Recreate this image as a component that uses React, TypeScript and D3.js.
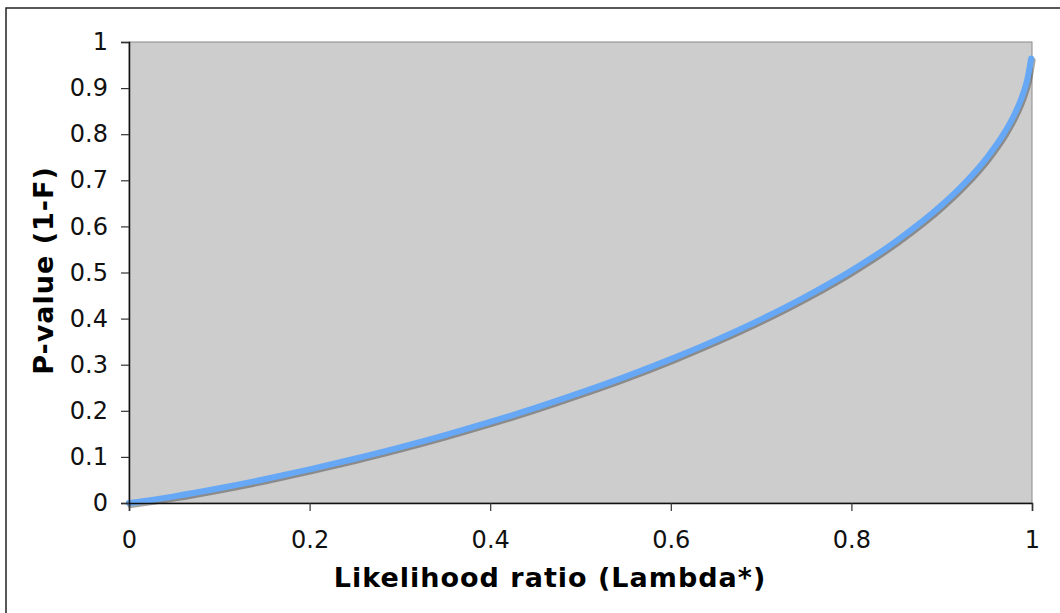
import React, { useEffect, useRef } from 'react';
import * as d3 from 'd3';

// Likelihood ratio (Lambda*) values
const lambdaValues = [0, 0.001, 0.01, 0.02, 0.05, 0.1, 0.15, 0.2, 0.25, 0.3, 0.35, 0.4, 0.45, 0.5, 0.55, 0.6, 0.65, 0.7, 0.75, 0.8, 0.85, 0.9, 0.925, 0.95, 0.97, 0.98, 0.99, 0.995, 0.999];
// P-value (1-F) at each lambda
const pValues = [0, 0.0002, 0.0024, 0.0052, 0.0144, 0.0319, 0.0514, 0.0728, 0.0959, 0.1206, 0.1473, 0.1758, 0.2063, 0.2393, 0.2742, 0.3121, 0.3533, 0.3983, 0.4482, 0.5041, 0.5686, 0.6462, 0.693, 0.7488, 0.805, 0.8406, 0.8872, 0.9203, 0.9644];

const xTicks = [0, 0.2, 0.4, 0.6, 0.8, 1];
const yTicks = [0, 0.1, 0.2, 0.3, 0.4, 0.5, 0.6, 0.7, 0.8, 0.9, 1];

const xTitle = 'Likelihood ratio (Lambda*)';
const yTitle = 'P-value (1-F)';

const App: React.FC = () => {
  const ref = useRef<SVGSVGElement | null>(null);

  useEffect(() => {
    if (!ref.current) return;
    const svg = d3.select(ref.current);
    svg.selectAll('*').remove();

    const width = 1060;
    const height = 613;
    const margin = { top: 42, right: 28, bottom: 110, left: 129 };
    const font = 'Verdana, "DejaVu Sans", sans-serif';

    const x = d3.scaleLinear().domain([0, 1]).range([margin.left, width - margin.right]);
    const y = d3.scaleLinear().domain([0, 1]).range([height - margin.bottom, margin.top]);

    // outer frame
    svg.append('rect')
      .attr('x', 6).attr('y', 8)
      .attr('width', 1200).attr('height', 800)
      .attr('fill', 'white')
      .attr('stroke', '#222')
      .attr('stroke-width', 1.5);

    // plot area
    svg.append('rect')
      .attr('x', x(0)).attr('y', y(1))
      .attr('width', x(1) - x(0)).attr('height', y(0) - y(1))
      .attr('fill', '#cdcdcd')
      .attr('stroke', '#8a8a8a')
      .attr('stroke-width', 1);

    const data = lambdaValues.map((l, i) => ({ l, p: pValues[i] }));
    const line = d3.line<{ l: number; p: number }>()
      .x(d => x(d.l))
      .y(d => y(d.p))
      .curve(d3.curveMonotoneX);

    // shadow under the line
    svg.append('path')
      .datum(data)
      .attr('fill', 'none')
      .attr('stroke', 'rgba(60,60,60,0.45)')
      .attr('stroke-width', 6)
      .attr('stroke-linecap', 'round')
      .attr('transform', 'translate(1.5,2)')
      .attr('d', line);

    svg.append('path')
      .datum(data)
      .attr('fill', 'none')
      .attr('stroke', '#66a8f5')
      .attr('stroke-width', 6)
      .attr('stroke-linecap', 'round')
      .attr('d', line);

    // X axis
    const xAxis = svg.append('g')
      .attr('transform', `translate(0,${y(0)})`)
      .call(d3.axisBottom(x).tickValues(xTicks).tickSize(8).tickPadding(20).tickFormat(d => d3.format('')(d as number)));
    xAxis.select('.domain').attr('stroke', '#111').attr('stroke-width', 1.5);
    xAxis.selectAll('line').attr('stroke', '#333').attr('stroke-width', 1.2);
    xAxis.selectAll('text')
      .attr('font-family', font)
      .attr('font-size', 24)
      .attr('fill', '#111');

    // Y axis
    const yAxis = svg.append('g')
      .attr('transform', `translate(${x(0)},0)`)
      .call(d3.axisLeft(y).tickValues(yTicks).tickSize(8).tickPadding(13).tickFormat(d => d3.format('')(d as number)));
    yAxis.select('.domain').attr('stroke', '#111').attr('stroke-width', 1.5);
    yAxis.selectAll('line').attr('stroke', '#333').attr('stroke-width', 1.2);
    yAxis.selectAll('text')
      .attr('font-family', font)
      .attr('font-size', 24)
      .attr('fill', '#111');

    // axis titles
    svg.append('text')
      .attr('x', 550)
      .attr('y', 587)
      .attr('text-anchor', 'middle')
      .attr('font-family', font)
      .attr('font-weight', 'bold')
      .attr('font-size', 27)
      .attr('letter-spacing', 1)
      .attr('fill', '#000')
      .text(xTitle);

    svg.append('text')
      .attr('transform', `translate(53,${(y(0) + y(1)) / 2 - 2}) rotate(-90)`)
      .attr('text-anchor', 'middle')
      .attr('font-family', font)
      .attr('font-weight', 'bold')
      .attr('font-size', 27)
      .attr('letter-spacing', 1)
      .attr('fill', '#000')
      .text(yTitle);
  }, []);

  return (
    <svg
      ref={ref}
      width={1060}
      height={613}
      style={{ position: 'fixed', left: 0, top: 0, display: 'block' }}
    />
  );
};

export default App;
